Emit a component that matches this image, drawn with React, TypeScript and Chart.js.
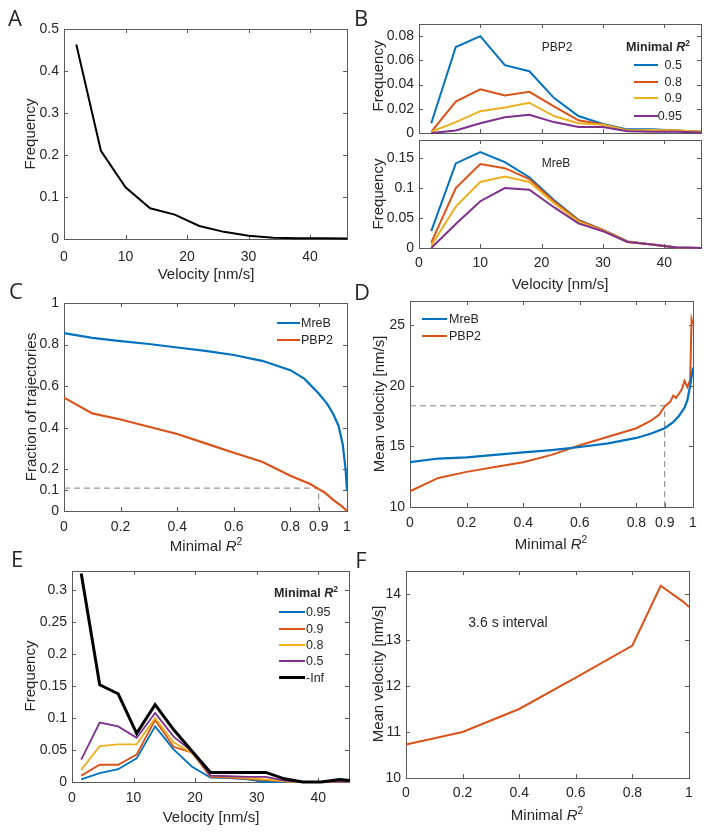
import React, { useEffect, useRef } from "react";
import { Chart, registerables } from "chart.js";
Chart.register(...registerables);

// ---------------- data ----------------
const BLUE = "#0072BD";
const ORANGE = "#D95319";
const YELLOW = "#EDB120";
const PURPLE = "#7E2F8E";
const BLACK = "#000000";
const DASH = "#808080";

// Panel A
const velBins = [2, 6, 10, 14, 18, 22, 26, 30, 34, 38, 42, 46];
const freqA = [0.463, 0.21, 0.123, 0.073, 0.058, 0.031, 0.017, 0.008, 0.003, 0.002, 0.002, 0.001];

// Panel B (top, PBP2)
const pbp2R05 = [0.008, 0.071, 0.08, 0.056, 0.051, 0.029, 0.014, 0.0075, 0.003, 0.003, 0.002, 0.001];
const pbp2R08 = [0.001, 0.026, 0.036, 0.031, 0.034, 0.022, 0.0105, 0.007, 0.002, 0.002, 0.002, 0.001];
const pbp2R09 = [0.001, 0.009, 0.018, 0.021, 0.025, 0.014, 0.008, 0.0068, 0.002, 0.0025, 0.002, 0.001];
const pbp2R095 = [0, 0.002, 0.008, 0.013, 0.015, 0.009, 0.005, 0.005, 0.0015, 0.001, 0.001, 0.0005];

// Panel B (bottom, MreB)
const mrebR05 = [0.028, 0.141, 0.16, 0.143, 0.118, 0.08, 0.047, 0.03, 0.011, 0.006, 0.001, 0];
const mrebR08 = [0.009, 0.1, 0.14, 0.133, 0.115, 0.078, 0.046, 0.03, 0.011, 0.006, 0.001, 0];
const mrebR09 = [0.004, 0.069, 0.11, 0.119, 0.11, 0.075, 0.044, 0.029, 0.01, 0.006, 0.001, 0];
const mrebR095 = [0, 0.04, 0.078, 0.1, 0.097, 0.068, 0.041, 0.028, 0.01, 0.006, 0.001, 0];

// Panel C
const r2CMreB = [0, 0.1, 0.2, 0.3, 0.4, 0.5, 0.6, 0.7, 0.8, 0.85, 0.9, 0.93, 0.95, 0.97, 0.985, 0.995, 1];
const fracMreB = [0.855, 0.832, 0.817, 0.803, 0.786, 0.77, 0.75, 0.722, 0.677, 0.635, 0.565, 0.515, 0.47, 0.41, 0.32, 0.2, 0.1];
const r2CPBP2 = [0, 0.1, 0.2, 0.3, 0.4, 0.5, 0.6, 0.7, 0.8, 0.87, 0.9, 0.92, 0.95, 0.98, 1];
const fracPBP2 = [0.545, 0.469, 0.44, 0.405, 0.37, 0.325, 0.28, 0.237, 0.17, 0.13, 0.105, 0.09, 0.055, 0.025, 0];
const dashCx = [0, 0.9, 0.9];
const dashCy = [0.11, 0.11, 0];

// Panel D
const r2DMreB = [0, 0.1, 0.2, 0.3, 0.4, 0.5, 0.6, 0.7, 0.8, 0.85, 0.9, 0.93, 0.95, 0.97, 0.98, 0.99, 1];
const velDMreB = [13.7, 14.0, 14.1, 14.3, 14.5, 14.7, 14.95, 15.25, 15.7, 16.05, 16.5, 17.0, 17.5, 18.2, 18.8, 20.0, 21.5];
const r2DPBP2 = [0, 0.1, 0.2, 0.3, 0.4, 0.5, 0.6, 0.7, 0.8, 0.85, 0.88, 0.9, 0.92, 0.93, 0.94, 0.96, 0.97, 0.98, 0.99, 0.995, 1];
const velDPBP2 = [11.3, 12.4, 12.9, 13.3, 13.7, 14.3, 15.1, 15.8, 16.5, 17.1, 17.6, 18.3, 18.7, 19.2, 19.0, 19.7, 20.4, 19.9, 20.5, 25.5, 25.1];
const dashDx = [0, 0.9, 0.9];
const dashDy = [18.35, 18.35, 10];

// Panel E
const velE = [1.5, 4.5, 7.5, 10.5, 13.5, 16.5, 19.5, 22.5, 25.5, 28.5, 31.5, 34.5, 37.5, 40.5, 43.5, 46.5];
const eR095 = [0.004, 0.014, 0.02, 0.037, 0.087, 0.051, 0.024, 0.007, 0.006, 0.004, 0, 0, 0, 0, 0.001, 0];
const eR09 = [0.01, 0.027, 0.027, 0.043, 0.097, 0.055, 0.046, 0.008, 0.007, 0.005, 0.003, 0.001, 0, 0, 0.001, 0];
const eR08 = [0.019, 0.056, 0.059, 0.059, 0.1, 0.062, 0.045, 0.01, 0.008, 0.006, 0.004, 0.001, 0, 0, 0.001, 0];
const eR05 = [0.035, 0.093, 0.087, 0.069, 0.108, 0.071, 0.048, 0.01, 0.009, 0.008, 0.008, 0.002, 0, 0, 0.001, 0];
const eInf = [0.326, 0.152, 0.138, 0.076, 0.121, 0.082, 0.048, 0.015, 0.015, 0.015, 0.015, 0.005, 0, 0, 0.004, 0.001];

// Panel F
const r2F = [0, 0.2, 0.4, 0.6, 0.8, 0.9, 0.98, 1];
const velF = [10.73, 11.0, 11.5, 12.18, 12.88, 14.18, 13.83, 13.72];

// ticks
const velTicks = [0, 10, 20, 30, 40];
const r2Ticks = [0, 0.2, 0.4, 0.6, 0.8, 0.9, 1];
const r2TicksF = [0, 0.2, 0.4, 0.6, 0.8, 1];
const yTicksA = [0, 0.1, 0.2, 0.3, 0.4, 0.5];
const yTicksBtop = [0, 0.02, 0.04, 0.06, 0.08];
const yTicksBbot = [0, 0.05, 0.1, 0.15];
const yTicksC = [0, 0.1, 0.2, 0.4, 0.6, 0.8, 1];
const yTicksD = [10, 15, 20, 25];
const yTicksE = [0, 0.05, 0.1, 0.15, 0.2, 0.25, 0.3];
const yTicksF = [10, 11, 12, 13, 14];

// ---------------- helpers ----------------
const FONT = '"Liberation Sans", Arial, Helvetica, sans-serif';
const TXT = "#262626";
const AXIS = "#5a5a5a";
const ML = 50, MR = 14, MT = 14, MB = 32;

const zip = (xs: number[], ys: number[]) => xs.map((x, i) => ({ x, y: ys[i] }));
const fmt = (v: number) => String(parseFloat(Number(v).toFixed(4)));

const line = (xs: number[], ys: number[], color: string, width = 2, dash: number[] = []) => ({
  data: zip(xs, ys),
  borderColor: color,
  backgroundColor: color,
  borderWidth: width,
  borderDash: dash,
  pointRadius: 0,
  tension: 0,
  fill: false,
  clip: { left: 1, right: 1, top: 2, bottom: 2 },
});

const boxPlugin = {
  id: "boxTicks",
  beforeDatasetsDraw(chart: any) {
    const { ctx, chartArea: a, scales } = chart;
    const len = 4;
    ctx.save();
    ctx.strokeStyle = AXIS;
    ctx.lineWidth = 1;
    ctx.beginPath();
    const xs = scales.x, ys = scales.y;
    xs.ticks.forEach((t: any) => {
      const p = Math.round(xs.getPixelForValue(t.value)) + 0.5;
      ctx.moveTo(p, a.bottom);
      ctx.lineTo(p, a.bottom - len);
      ctx.moveTo(p, a.top);
      ctx.lineTo(p, a.top + len);
    });
    ys.ticks.forEach((t: any) => {
      const p = Math.round(ys.getPixelForValue(t.value)) + 0.5;
      ctx.moveTo(a.left, p);
      ctx.lineTo(a.left + len, p);
      ctx.moveTo(a.right, p);
      ctx.lineTo(a.right - len, p);
    });
    ctx.stroke();
    ctx.strokeRect(Math.round(a.left) + 0.5, Math.round(a.top) + 0.5, Math.round(a.right - a.left), Math.round(a.bottom - a.top));
    ctx.restore();
  },
};

type Axis = { min: number; max: number; ticks: number[] };

function makeConfig(datasets: any[], x: Axis, y: Axis, xLabels = true, xPad = 8) {
  const tickFont = { family: FONT, size: 14 };
  return {
    type: "line",
    data: { datasets },
    options: {
      responsive: false,
      animation: false,
      devicePixelRatio: 1,
      layout: { padding: { top: MT, right: MR, left: 0, bottom: 0 } },
      plugins: { legend: { display: false }, tooltip: { enabled: false } },
      scales: {
        x: {
          type: "linear",
          min: x.min,
          max: x.max,
          grid: { display: false, drawTicks: false },
          border: { display: false },
          afterBuildTicks: (s: any) => {
            s.ticks = x.ticks.map((v) => ({ value: v }));
          },
          afterFit: (s: any) => {
            s.height = MB;
          },
          ticks: {
            display: xLabels,
            padding: xPad,
            maxRotation: 0,
            autoSkip: false,
            font: tickFont,
            color: TXT,
            callback: (v: number) => fmt(v),
          },
        },
        y: {
          type: "linear",
          min: y.min,
          max: y.max,
          grid: { display: false, drawTicks: false },
          border: { display: false },
          afterBuildTicks: (s: any) => {
            s.ticks = y.ticks.map((v) => ({ value: v }));
          },
          afterFit: (s: any) => {
            s.width = ML;
          },
          ticks: {
            padding: 5,
            autoSkip: false,
            font: tickFont,
            color: TXT,
            callback: (v: number) => fmt(v),
          },
        },
      },
    },
    plugins: [boxPlugin],
  };
}

type Rect = { L: number; T: number; R: number; B: number };

function ChartBox({ rect, config }: { rect: Rect; config: any }) {
  const ref = useRef<HTMLCanvasElement>(null);
  const w = rect.R - rect.L + ML + MR;
  const h = rect.B - rect.T + MT + MB;
  useEffect(() => {
    const c = new Chart(ref.current as HTMLCanvasElement, config);
    return () => c.destroy();
  }, []);
  return (
    <canvas
      ref={ref}
      width={w}
      height={h}
      style={{ position: "absolute", left: rect.L - ML, top: rect.T - MT, width: w, height: h }}
    />
  );
}

function T({
  x, y, size = 15, rot = 0, bold = false, align = "center", family = FONT, children,
}: any) {
  const tx = align === "center" ? "-50%" : align === "right" ? "-100%" : "0";
  return (
    <div
      style={{
        position: "absolute",
        left: x,
        top: y,
        transform: `translate(${tx}, -50%) rotate(${rot}deg)`,
        fontFamily: family,
        fontSize: size,
        fontWeight: bold ? "bold" : "normal",
        color: TXT,
        lineHeight: 1,
        whiteSpace: "nowrap",
      }}
    >
      {children}
    </div>
  );
}

const R2 = () => (
  <>
    <i>R</i>
    <span style={{ fontSize: "0.68em", position: "relative", top: "-0.6em" }}>2</span>
  </>
);

function Legend({ items, x1, x2, tx, rows, align = "left", size = 12.5 }: any) {
  return (
    <>
      {items.map((it: any, i: number) => (
        <React.Fragment key={i}>
          <div
            style={{
              position: "absolute",
              left: x1,
              top: rows[i] - it.w / 2,
              width: x2 - x1,
              height: it.w,
              background: it.color,
            }}
          />
          <T x={tx} y={rows[i]} size={size} align={align}>
            {it.label}
          </T>
        </React.Fragment>
      ))}
    </>
  );
}

// ---------------- panels ----------------
const rectA: Rect = { L: 64, T: 29, R: 347, B: 239 };
const rectBt: Rect = { L: 419, T: 24, R: 701, B: 133 };
const rectBb: Rect = { L: 419, T: 140, R: 701, B: 248 };
const rectC: Rect = { L: 64, T: 303, R: 347, B: 511 };
const rectD: Rect = { L: 410, T: 301, R: 693, B: 507 };
const rectE: Rect = { L: 72, T: 571, R: 349, B: 782 };
const rectF: Rect = { L: 406, T: 571, R: 689, B: 778 };

const cfgA = makeConfig(
  [line(velBins, freqA, BLACK, 2)],
  { min: 0, max: 46, ticks: velTicks },
  { min: 0, max: 0.5, ticks: yTicksA },
  true,
  10
);
const cfgBt = makeConfig(
  [
    line(velBins, pbp2R095, PURPLE),
    line(velBins, pbp2R09, YELLOW),
    line(velBins, pbp2R08, ORANGE),
    line(velBins, pbp2R05, BLUE),
  ],
  { min: 0, max: 46, ticks: velTicks },
  { min: 0, max: 0.09, ticks: yTicksBtop },
  false
);
const cfgBb = makeConfig(
  [
    line(velBins, mrebR095, PURPLE),
    line(velBins, mrebR09, YELLOW),
    line(velBins, mrebR08, ORANGE),
    line(velBins, mrebR05, BLUE),
  ],
  { min: 0, max: 46, ticks: velTicks },
  { min: 0, max: 0.18, ticks: yTicksBbot },
  true,
  7
);
const cfgC = makeConfig(
  [
    line(r2CMreB, fracMreB, BLUE, 2.2),
    line(r2CPBP2, fracPBP2, ORANGE, 2.2),
    line(dashCx, dashCy, DASH, 1, [6, 4]),
  ],
  { min: 0, max: 1, ticks: r2Ticks },
  { min: 0, max: 1, ticks: yTicksC }
);
const cfgD = makeConfig(
  [
    line(r2DMreB, velDMreB, BLUE, 2.2),
    line(r2DPBP2, velDPBP2, ORANGE, 2),
    line(dashDx, dashDy, DASH, 1, [6, 4]),
  ],
  { min: 0, max: 1, ticks: r2Ticks },
  { min: 10, max: 27, ticks: yTicksD }
);
const cfgE = makeConfig(
  [
    line(velE, eInf, BLACK, 3),
    line(velE, eR05, PURPLE, 1.8),
    line(velE, eR08, YELLOW, 1.8),
    line(velE, eR09, ORANGE, 1.8),
    line(velE, eR095, BLUE, 1.8),
  ],
  { min: 0, max: 45, ticks: velTicks },
  { min: 0, max: 0.33, ticks: yTicksE }
);
const cfgF = makeConfig(
  [line(r2F, velF, ORANGE, 2)],
  { min: 0, max: 1, ticks: r2TicksF },
  { min: 10, max: 14.5, ticks: yTicksF },
  true,
  7
);

const LETTER = '"Open Sans", "Liberation Sans", Arial, sans-serif';

export default function App() {
  return (
    <div
      style={{
        position: "absolute",
        left: 0,
        top: 0,
        width: 713,
        height: 835,
        overflow: "hidden",
        background: "#fff",
        fontFamily: FONT,
      }}
    >
      <ChartBox rect={rectA} config={cfgA} />
      <ChartBox rect={rectBt} config={cfgBt} />
      <ChartBox rect={rectBb} config={cfgBb} />
      <ChartBox rect={rectC} config={cfgC} />
      <ChartBox rect={rectD} config={cfgD} />
      <ChartBox rect={rectE} config={cfgE} />
      <ChartBox rect={rectF} config={cfgF} />

      {/* panel letters */}
      <T x={15} y={17} size={22} family={LETTER}>A</T>
      <T x={361} y={17} size={22} family={LETTER}>B</T>
      <T x={16} y={290} size={22} family={LETTER}>C</T>
      <T x={362} y={291} size={22} family={LETTER}>D</T>
      <T x={17} y={558} size={22} family={LETTER}>E</T>
      <T x={361} y={559} size={22} family={LETTER}>F</T>

      {/* y titles */}
      <T x={29} y={134} rot={-90}>Frequency</T>
      <T x={377} y={76} rot={-90}>Frequency</T>
      <T x={377} y={194} rot={-90}>Frequency</T>
      <T x={30} y={407} rot={-90}>Fraction of trajectories</T>
      <T x={378} y={404} rot={-90}>Mean velocity [nm/s]</T>
      <T x={29} y={676} rot={-90}>Frequency</T>
      <T x={377} y={674} rot={-90}>Mean velocity [nm/s]</T>

      {/* x titles */}
      <T x={206} y={273}>Velocity [nm/s]</T>
      <T x={560} y={283}>Velocity [nm/s]</T>
      <T x={206} y={546}>Minimal <R2 /></T>
      <T x={551} y={544}>Minimal <R2 /></T>
      <T x={211} y={816}>Velocity [nm/s]</T>
      <T x={547} y={815}>Minimal <R2 /></T>

      {/* annotations */}
      <T x={557} y={47} size={12}>PBP2</T>
      <T x={556} y={163} size={12}>MreB</T>
      <T x={508} y={622} size={14}>3.6 s interval</T>

      {/* legend B */}
      <T x={658} y={47} size={12.5} bold>Minimal <R2 /></T>
      <Legend
        items={[
          { label: "0.5", color: BLUE, w: 2 },
          { label: "0.8", color: ORANGE, w: 2 },
          { label: "0.9", color: YELLOW, w: 2 },
          { label: "0.95", color: PURPLE, w: 2 },
        ]}
        x1={634}
        x2={658}
        tx={682}
        align="right"
        rows={[65, 81.7, 98.3, 116]}
      />

      {/* legend C */}
      <Legend
        items={[
          { label: "MreB", color: BLUE, w: 2 },
          { label: "PBP2", color: ORANGE, w: 2 },
        ]}
        x1={277}
        x2={300}
        tx={301}
        rows={[322.7, 340]}
      />

      {/* legend D */}
      <Legend
        items={[
          { label: "MreB", color: BLUE, w: 2 },
          { label: "PBP2", color: ORANGE, w: 2 },
        ]}
        x1={422}
        x2={447}
        tx={449}
        rows={[319.3, 336]}
      />

      {/* legend E */}
      <T x={306} y={593} size={12.5} bold>Minimal <R2 /></T>
      <Legend
        items={[
          { label: "0.95", color: BLUE, w: 2 },
          { label: "0.9", color: ORANGE, w: 2 },
          { label: "0.8", color: YELLOW, w: 2 },
          { label: "0.5", color: PURPLE, w: 2 },
          { label: "-Inf", color: BLACK, w: 3 },
        ]}
        x1={279}
        x2={305}
        tx={306}
        rows={[612.3, 629, 645, 661, 677.7]}
      />
    </div>
  );
}
